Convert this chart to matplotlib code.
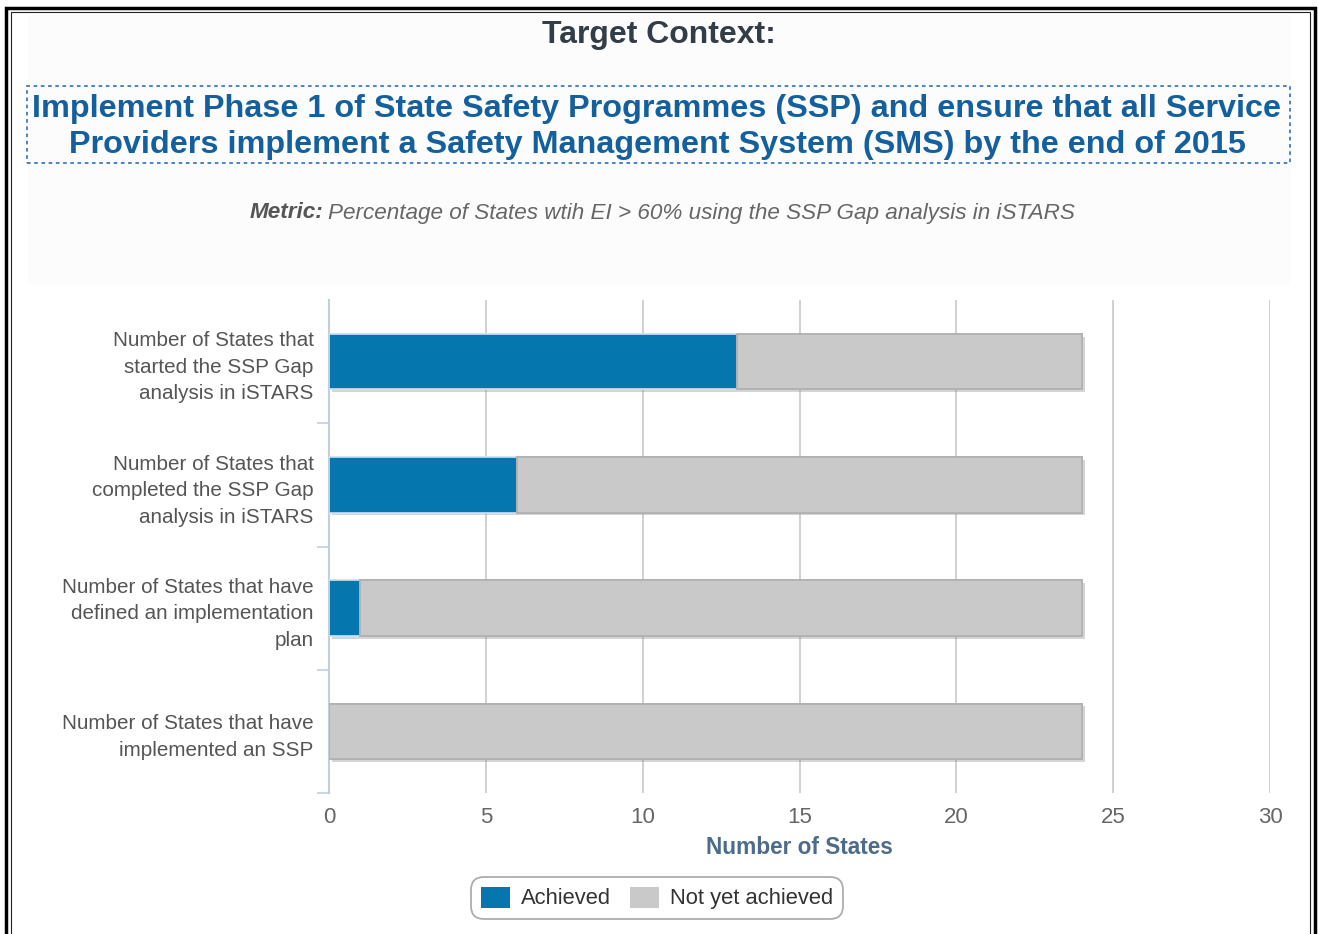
import matplotlib.pyplot as plt
from matplotlib.patches import Rectangle
from matplotlib import patheffects as pe

# data
categories = [
    'Number of States that\nstarted the SSP Gap\nanalysis in iSTARS',
    'Number of States that\ncompleted the SSP Gap\nanalysis in iSTARS',
    'Number of States that have\ndefined an implementation\nplan',
    'Number of States that have\nimplemented an SSP',
]
achieved = [13, 6, 1, 0]
not_yet = [11, 18, 23, 24]
x_ticks = [0, 5, 10, 15, 20, 25, 30]

plt.rcParams['font.family'] = ['Liberation Sans', 'DejaVu Sans']

W, H = 1318, 934
fig = plt.figure(figsize=(W / 100, H / 100), dpi=100)
fig.patch.set_facecolor('white')


def fx(px):
    return px / W


def fy(py):
    return 1 - py / H


# light header background
fig.add_artist(Rectangle((fx(28), fy(285)), fx(1262), 270 / H, transform=fig.transFigure,
                         facecolor='#fcfcfc', edgecolor='none', zorder=0))

# outer frame
fig.add_artist(Rectangle((fx(6), -0.01), fx(1309), fy(8) + 0.01, transform=fig.transFigure,
                         fill=False, edgecolor='black', linewidth=2.5))
fig.add_artist(Rectangle((fx(11), -0.01), fx(1299), fy(12) + 0.01, transform=fig.transFigure,
                         fill=False, edgecolor='#222222', linewidth=0.8))

# titles
fig.text(fx(659), fy(35), 'Target Context:', ha='center', va='center', fontsize=23,
         fontweight='bold', color='#333d47')
fig.text(fx(657), fy(127),
         'Implement Phase 1 of State Safety Programmes (SSP) and ensure that all Service\n'
         'Providers implement a Safety Management System (SMS) by the end of 2015',
         ha='center', va='center', fontsize=23.3, fontweight='bold', color='#14609e',
         linespacing=1.3)
fig.add_artist(Rectangle((fx(27), fy(163)), fx(1263), 77 / H, transform=fig.transFigure,
                         fill=False, edgecolor='#3b7bbf', linewidth=1.3, linestyle=(0, (2, 2))))
fig.text(fx(323), fy(213), 'Metric:', ha='right', va='center', fontsize=16.2,
         fontweight='bold', fontstyle='italic', color='#555555')
fig.text(fx(328), fy(213), 'Percentage of States wtih EI > 60% using the SSP Gap analysis in iSTARS',
         ha='left', va='center', fontsize=16.2, fontstyle='italic', color='#666666')

# chart
ax = fig.add_axes([fx(329), fy(793), fx(1270) - fx(329), (793 - 300) / H])
y = list(range(len(categories)))
shadow = [pe.withSimplePatchShadow(offset=(2, -2), shadow_rgbFace='#888888', alpha=0.35)]
b1 = ax.barh(y, achieved, height=0.45, color='#0577ae', edgecolor='#cfe3f2', linewidth=1.2,
             label='Achieved', zorder=3)
b2 = ax.barh(y, not_yet, left=achieved, height=0.45, color='#c9c9c9', edgecolor='#b0b0b0',
             linewidth=1.2, label='Not yet achieved', zorder=3)
for b in list(b1) + list(b2):
    b.set_path_effects(shadow + [pe.Normal()])

ax.set_ylim(len(categories) - 0.5, -0.5)
ax.set_xlim(0, 30)
ax.set_xticks(x_ticks)
ax.set_yticks(y)
ax.set_yticklabels(categories, fontsize=14.9, color='#555555', linespacing=1.5)
ax.set_yticks([i + 0.5 for i in range(len(categories))], minor=True)
ax.tick_params(axis='y', which='major', length=0, pad=11)
ax.tick_params(axis='y', which='minor', length=9, color='#c0d0e0', width=1.2)
ax.tick_params(axis='x', length=0, labelsize=16, labelcolor='#666666', pad=10)
ax.grid(axis='x', color='#c8c8c8', linewidth=1.2, zorder=0)
for s in ['top', 'right', 'bottom']:
    ax.spines[s].set_visible(False)
ax.spines['left'].set_color('#c0d0e0')
ax.spines['left'].set_linewidth(1.5)
ax.set_facecolor('none')
ax.set_xlabel('Number of States', fontsize=16.3, fontweight='bold', color='#4d6b8a', labelpad=6)

leg = fig.legend(handles=[b1, b2], loc='center', bbox_to_anchor=(fx(657), fy(898)), ncol=2,
                 fontsize=15.8, frameon=True, handlelength=1.3, handleheight=1.1, handletextpad=0.5,
                 columnspacing=0.9, borderpad=0.45, fancybox=True, labelcolor='#333333')
leg.get_frame().set_edgecolor('#999999')
leg.get_frame().set_linewidth(1.3)
leg.get_frame().set_boxstyle('round', pad=0, rounding_size=0.6)
for h in leg.legend_handles:
    h.set_path_effects([])
    h.set_edgecolor('none')

fig.savefig('out.png', dpi=100)
